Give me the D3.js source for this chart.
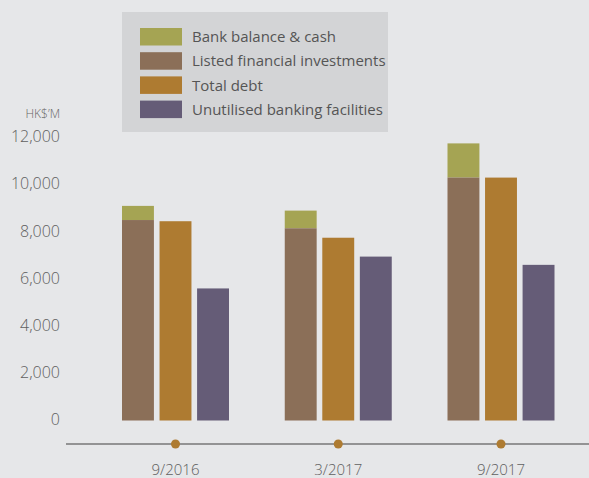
<!DOCTYPE html>
<html>
<head>
<meta charset="utf-8">
<script src="https://cdn.jsdelivr.net/npm/d3@7"></script>
<style>
  html, body { margin: 0; padding: 0; background: #e6e7e9; }
  svg { display: block; font-family: 'Open Sans', 'DejaVu Sans', sans-serif; }
</style>
</head>
<body>
<div id="chart"></div>
<script>
const periods = ['9/2016', '3/2017', '9/2017'];
const bankCash = [600, 750, 1450];
const listedInvestments = [8500, 8150, 10300];
const totalDebt = [8450, 7750, 10300];
const unutilisedFacilities = [5600, 6950, 6600];
const yTicks = [0, 2000, 4000, 6000, 8000, 10000, 12000];

const legendItems = [
  { label: 'Bank balance & cash', color: '#a5a453' },
  { label: 'Listed financial investments', color: '#8b6f58' },
  { label: 'Total debt', color: '#ae7b31' },
  { label: 'Unutilised banking facilities', color: '#655c77' },
];

const width = 589;
const height = 478;

const svg = d3.select('#chart').append('svg')
  .attr('width', width)
  .attr('height', height);

const y = d3.scaleLinear()
  .domain([0, 12000])
  .range([420.5, 137.5]);

const x = d3.scalePoint()
  .domain(periods)
  .range([175.5, 501]);

const inner = d3.scaleBand()
  .domain(['stack', 'debt', 'facilities'])
  .range([-53.5, 53.5])
  .paddingInner(0.15);

// legend box
const legend = svg.append('g');
legend.append('rect')
  .attr('x', 122).attr('y', 12)
  .attr('width', 266).attr('height', 120)
  .attr('fill', '#d3d4d6');

const rows = legend.selectAll('g.row')
  .data(legendItems)
  .join('g')
  .attr('class', 'row')
  .attr('transform', (d, i) => `translate(140, ${28 + i * 24.2})`);

rows.append('rect')
  .attr('width', 42).attr('height', 17.5)
  .attr('fill', d => d.color);

rows.append('text')
  .attr('x', 52).attr('y', 9)
  .attr('dy', '0.35em')
  .attr('font-size', '15px')
  .attr('fill', '#555')
  .text(d => d.label);

// y axis labels (no line)
svg.append('text')
  .attr('x', 60).attr('y', 114)
  .attr('dy', '0.35em')
  .attr('text-anchor', 'end')
  .attr('font-size', '12px')
  .attr('font-weight', 300)
  .attr('fill', '#666')
  .text('HK$\u2019M');

svg.append('g').selectAll('text')
  .data(yTicks)
  .join('text')
  .attr('x', 60)
  .attr('y', d => y(d))
  .attr('dy', '0.3em')
  .attr('text-anchor', 'end')
  .attr('font-size', '16px')
  .attr('font-weight', 300)
  .attr('fill', '#606060')
  .text(d => d3.format(',')(d));

// bars
const groups = svg.append('g').selectAll('g')
  .data(periods)
  .join('g')
  .attr('transform', d => `translate(${x(d)}, 0)`);

groups.append('rect')
  .attr('x', inner('stack'))
  .attr('width', inner.bandwidth())
  .attr('y', (d, i) => y(listedInvestments[i] + bankCash[i]))
  .attr('height', (d, i) => y(listedInvestments[i]) - y(listedInvestments[i] + bankCash[i]))
  .attr('fill', legendItems[0].color);

groups.append('rect')
  .attr('x', inner('stack'))
  .attr('width', inner.bandwidth())
  .attr('y', (d, i) => y(listedInvestments[i]))
  .attr('height', (d, i) => y(0) - y(listedInvestments[i]))
  .attr('fill', legendItems[1].color);

groups.append('rect')
  .attr('x', inner('debt'))
  .attr('width', inner.bandwidth())
  .attr('y', (d, i) => y(totalDebt[i]))
  .attr('height', (d, i) => y(0) - y(totalDebt[i]))
  .attr('fill', legendItems[2].color);

groups.append('rect')
  .attr('x', inner('facilities'))
  .attr('width', inner.bandwidth())
  .attr('y', (d, i) => y(unutilisedFacilities[i]))
  .attr('height', (d, i) => y(0) - y(unutilisedFacilities[i]))
  .attr('fill', legendItems[3].color);

// x axis line with dots
const axisY = 444;
svg.append('line')
  .attr('x1', 66).attr('x2', width)
  .attr('y1', axisY).attr('y2', axisY)
  .attr('stroke', '#777')
  .attr('stroke-width', 1.3);

svg.append('g').selectAll('circle')
  .data(periods)
  .join('circle')
  .attr('cx', d => x(d))
  .attr('cy', axisY)
  .attr('r', 4.5)
  .attr('fill', '#ae7b31');

svg.append('g').selectAll('text')
  .data(periods)
  .join('text')
  .attr('x', d => x(d))
  .attr('y', 470)
  .attr('dy', '0.35em')
  .attr('text-anchor', 'middle')
  .attr('font-size', '15px')
  .attr('font-weight', 300)
  .attr('fill', '#606060')
  .text(d => d);
</script>
</body>
</html>
